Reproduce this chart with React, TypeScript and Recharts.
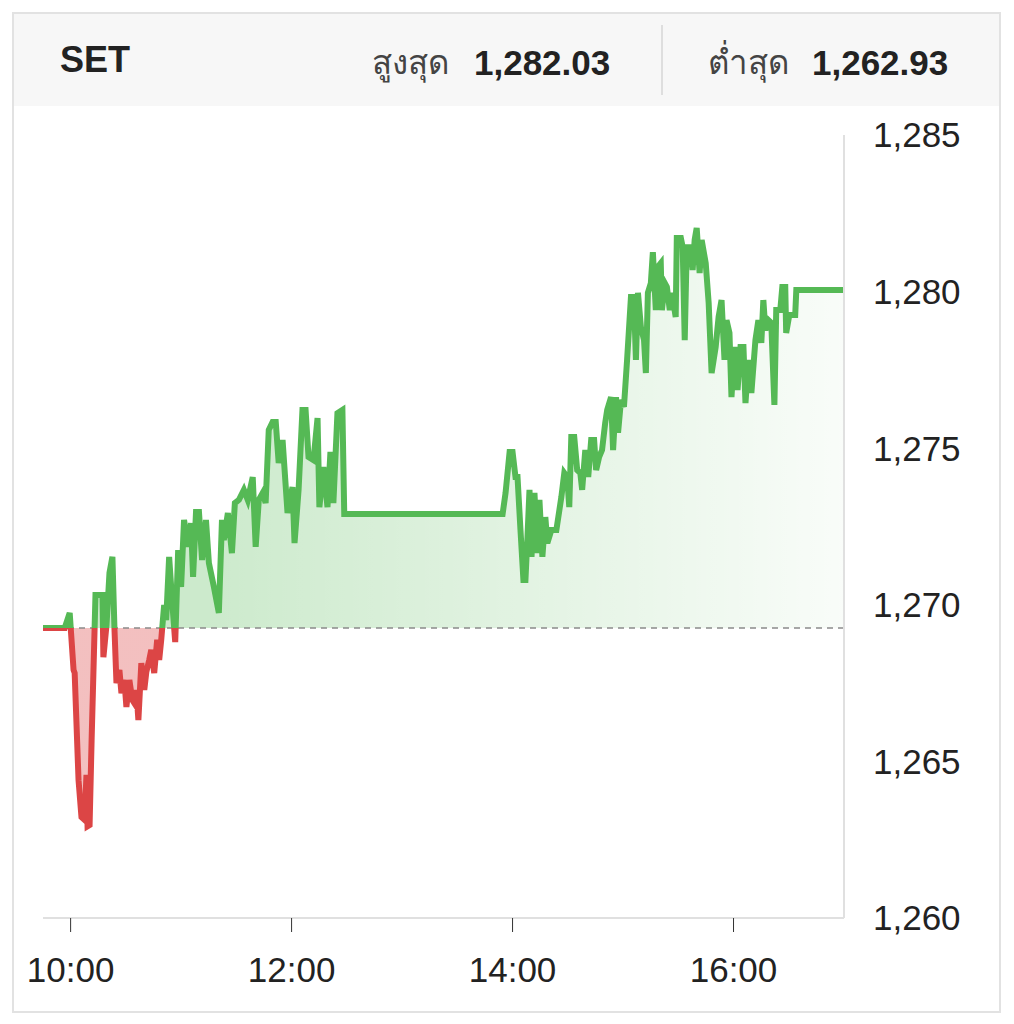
import React from "react";
import {
  ComposedChart,
  Area,
  Line,
  XAxis,
  YAxis,
  ReferenceLine,
} from "recharts";

// minutes since midnight
const times = [
  585, 596.8, 599.5, 601.6, 602.2, 604.3, 605.9, 607.6, 608.6, 609.2, 610.3,
  611.4, 613.0, 613.5, 617.3, 617.8, 619.5, 621.1, 622.7, 623.8, 624.9, 626.5,
  627.6, 629.2, 630.3, 631.9, 633.5, 634.6, 635.7, 636.8, 638.4, 640.0, 641.1,
  642.7, 643.8, 645.4, 647.0, 648.1, 649.2, 650.8, 651.9, 653.5, 655.1, 656.8,
  658.4, 660.0, 661.6, 663.8, 665.4, 666.5, 668.1, 669.7, 671.4, 673.5, 675.1,
  677.8, 680.5, 682.2, 683.2, 685.4, 687.6, 689.2, 691.4, 694.1, 696.2, 698.9,
  700.5, 702.2, 704.3, 705.9, 707.6, 709.7, 711.4, 713.0, 715.1, 717.8, 720.5,
  721.6, 723.8, 725.9, 727.6, 729.2, 731.9, 734.1, 735.1, 737.3, 739.5, 741.1,
  742.7, 744.9, 747.6, 748.6,
  // afternoon
  834.6, 836.2, 838.4, 840.0, 841.6, 842.7, 844.3, 845.9, 847.0, 848.1, 849.2,
  850.3, 851.9, 853.5, 854.6, 856.2, 857.8, 858.9, 861.1, 863.8, 866.5, 868.1,
  869.7, 870.8, 871.9, 873.5, 875.1, 876.8, 877.8, 879.5, 881.1, 882.7, 884.3,
  885.4, 887.0, 888.6, 890.3, 891.4, 893.5, 894.6, 896.2, 897.3, 898.9, 900.5,
  902.2, 904.3, 905.9, 907.0, 908.1, 909.7, 911.4, 912.4, 913.5, 915.1, 916.2,
  917.8, 918.9, 920.5, 921.1, 922.7, 923.8, 925.4, 926.5, 928.6, 929.2, 931.4,
  932.4, 933.5, 934.6, 936.8, 937.8, 938.9, 940.0, 941.6, 942.7, 944.9, 946.5,
  948.1, 950.3, 951.9, 953.5, 955.1, 956.2, 957.8, 958.9, 960.5, 962.2, 963.8,
  965.4, 966.5, 968.1, 969.7, 971.9, 973.5, 975.1, 976.2, 977.3, 978.9, 980.5,
  982.2, 983.2, 985.4, 986.5, 988.1, 988.6, 990.3, 993.5, 994.1, 1020,
];

const values = [
  1269.26, 1269.26, 1269.74, 1267.92, 1267.82, 1264.4, 1263.22, 1263.13,
  1264.57, 1262.93, 1262.97, 1265.68, 1269.2, 1270.31, 1270.31, 1268.33,
  1269.36, 1271.02, 1271.53, 1269.26, 1267.5, 1267.92, 1267.18, 1267.6,
  1266.74, 1267.6, 1266.96, 1266.86, 1267.28, 1266.32, 1268.14, 1267.28,
  1267.85, 1268.24, 1268.56, 1267.82, 1268.88, 1268.24, 1268.88, 1269.99,
  1269.51, 1271.53, 1270.15, 1268.81, 1271.75, 1270.57, 1272.71, 1271.85,
  1272.61, 1270.89, 1272.96, 1272.96, 1271.43, 1272.71, 1271.33, 1270.57,
  1269.74, 1272.71, 1272.07, 1272.93, 1271.65, 1273.25, 1273.35, 1273.67,
  1273.35, 1274.08, 1271.85, 1273.35, 1273.57, 1273.25, 1275.58, 1275.84,
  1275.84, 1274.53, 1275.26, 1272.93, 1273.76, 1271.97, 1273.67, 1276.22,
  1276.22, 1274.72, 1274.62, 1275.96, 1273.12, 1274.4, 1273.12, 1274.88,
  1273.25, 1276.12, 1276.22, 1272.9,
  // afternoon
  1272.9, 1273.57, 1274.88, 1274.88, 1274.08, 1274.08, 1272.39, 1270.79,
  1270.79, 1272.16, 1273.67, 1271.53, 1273.57, 1271.65, 1273.35, 1271.53,
  1272.8, 1271.97, 1272.39, 1272.39, 1273.44, 1274.21, 1274.08, 1273.12,
  1275.36, 1275.36, 1274.3, 1274.21, 1273.67, 1274.94, 1274.08, 1275.26,
  1275.26, 1274.3, 1274.72, 1274.94, 1275.8, 1276.22, 1276.63, 1274.94,
  1276.63, 1275.49, 1276.54, 1276.32, 1277.82, 1279.83, 1279.83, 1277.82,
  1279.96, 1278.87, 1278.45, 1277.4, 1279.96, 1280.27, 1281.26, 1279.41,
  1280.79, 1280.91, 1279.41, 1280.27, 1280.15, 1279.41, 1279.96, 1279.19,
  1281.71, 1281.71, 1281.42, 1278.45, 1281.42, 1281.42, 1280.69, 1281.65,
  1282.03, 1280.59, 1281.65, 1280.91, 1279.64, 1277.4, 1278.23, 1279.19,
  1279.73, 1277.82, 1279.09, 1278.68, 1276.63, 1278.23, 1276.86, 1278.23,
  1278.23, 1276.44, 1277.82, 1276.76, 1278.45, 1279.09, 1278.36, 1279.73,
  1278.77, 1279.09, 1279.0, 1276.38, 1279.41, 1279.41, 1280.15, 1280.15,
  1278.68, 1279.25, 1279.25, 1280.05, 1280.05,
];

const PREV_CLOSE = 1269.26;
const HIGH = 1282.03;
const LOW = 1262.93;

const xTicks = [600, 720, 840, 960];
const yTicks = [1260, 1265, 1270, 1275, 1280, 1285];

const GREEN = "#55b955";
const RED = "#dc4545";
const FONT = "'Liberation Sans', Arial, Helvetica, sans-serif";

const data = times.map((t, i) => ({ t, value: values[i] }));

const fmtNum = (n: number, d = 0) =>
  n.toLocaleString("en-US", { minimumFractionDigits: d, maximumFractionDigits: d });

const App: React.FC = () => {
  const max = Math.max(...values);
  const min = Math.min(...values);
  const off = (max - PREV_CLOSE) / (max - min);

  return (
    <div
      style={{
        position: "relative",
        width: 989,
        height: 1001,
        marginLeft: 4,
        marginTop: 4,
        border: "2px solid #e2e2e2",
        boxSizing: "border-box",
        fontFamily: FONT,
        color: "#222",
        background: "#fff",
      }}
    >
      <div style={{ position: "absolute", left: 0, top: 0, width: 985, height: 92, background: "#f7f7f7" }}>
        <span style={{ position: "absolute", left: 46, top: 28, fontSize: 36, fontWeight: 700, lineHeight: "36px" }}>
          SET
        </span>
        <span style={{ position: "absolute", left: 358, top: 31, fontSize: 33, color: "#444", lineHeight: "36px" }}>
          สูงสุด
        </span>
        <span style={{ position: "absolute", left: 460, top: 31, fontSize: 35, fontWeight: 700, lineHeight: "36px" }}>
          {fmtNum(HIGH, 2)}
        </span>
        <div style={{ position: "absolute", left: 647, top: 11, width: 2, height: 70, background: "#dedede" }} />
        <span style={{ position: "absolute", left: 694, top: 31, fontSize: 33, color: "#444", lineHeight: "36px" }}>
          ต่ำสุด
        </span>
        <span style={{ position: "absolute", left: 798, top: 31, fontSize: 35, fontWeight: 700, lineHeight: "36px" }}>
          {fmtNum(LOW, 2)}
        </span>
      </div>
      <div style={{ position: "absolute", left: 0, top: 92 }}>
        <ComposedChart
          width={985}
          height={905}
          data={data}
          margin={{ top: 29, right: 0, left: 29, bottom: 0 }}
        >
          <defs>
            <linearGradient id="splitStroke" x1="0" y1="0" x2="0" y2="1">
              <stop offset={0} stopColor={GREEN} />
              <stop offset={off} stopColor={GREEN} />
              <stop offset={off} stopColor={RED} />
              <stop offset={1} stopColor={RED} />
            </linearGradient>
            <linearGradient id="splitFill" x1="0" y1="0" x2="0" y2="1">
              <stop offset={0} stopColor={GREEN} stopOpacity={0.3} />
              <stop offset={off} stopColor={GREEN} stopOpacity={0.3} />
              <stop offset={off} stopColor={RED} stopOpacity={0.34} />
              <stop offset={1} stopColor={RED} stopOpacity={0.34} />
            </linearGradient>
            <linearGradient id="fadeFill" x1="0" y1="0" x2="1" y2="0">
              <stop offset={0.2} stopColor="#fff" stopOpacity={0} />
              <stop offset={1} stopColor="#fff" stopOpacity={0.88} />
            </linearGradient>
          </defs>
          <XAxis
            dataKey="t"
            type="number"
            domain={[585, 1020]}
            ticks={xTicks}
            allowDataOverflow
            tickFormatter={(m: number) => `${Math.floor(m / 60)}:00`}
            height={93}
            axisLine={{ stroke: "#e0e0e0", strokeWidth: 2 }}
            tickLine={{ stroke: "#333" }}
            tickSize={14}
            tickMargin={25}
            tick={{ fill: "#222", fontSize: 35, fontFamily: FONT }}
          />
          <YAxis
            orientation="right"
            domain={[1260, 1285]}
            ticks={yTicks}
            allowDataOverflow
            tickFormatter={(v: number) => fmtNum(v)}
            width={155}
            axisLine={{ stroke: "#e0e0e0", strokeWidth: 2 }}
            tickLine={false}
            tickSize={6}
            tickMargin={23}
            tick={{ fill: "#222", fontSize: 35, fontFamily: FONT }}
          />
          <Area
            dataKey="value"
            type="linear"
            baseValue={PREV_CLOSE}
            stroke="none"
            fill="url(#splitFill)"
            fillOpacity={1}
            isAnimationActive={false}
            activeDot={false}
          />
          <Area
            dataKey="value"
            type="linear"
            baseValue={PREV_CLOSE}
            stroke="none"
            fill="url(#fadeFill)"
            fillOpacity={1}
            isAnimationActive={false}
            activeDot={false}
          />
          <ReferenceLine y={PREV_CLOSE} stroke="#8a8a8a" strokeWidth={1.5} strokeDasharray="6 5" />
          <Line
            dataKey="value"
            type="linear"
            stroke="url(#splitStroke)"
            strokeWidth={6}
            dot={false}
            activeDot={false}
            isAnimationActive={false}
          />
        </ComposedChart>
      </div>
    </div>
  );
};

export default App;
